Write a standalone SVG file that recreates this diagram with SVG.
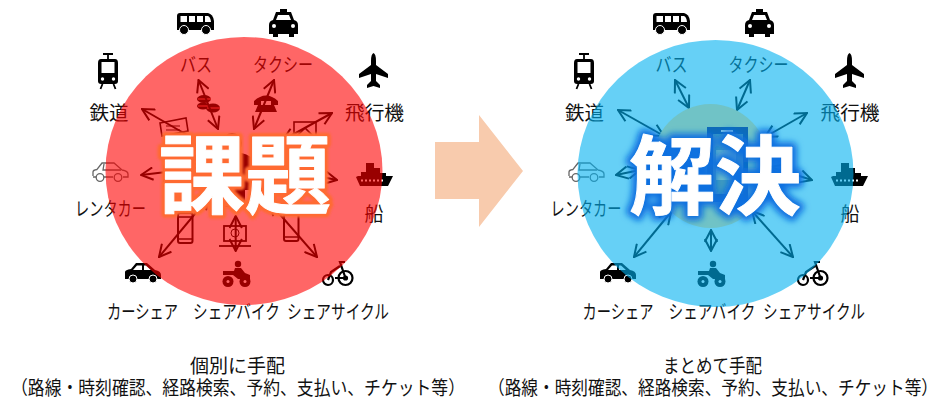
<svg xmlns="http://www.w3.org/2000/svg" width="930" height="398" viewBox="0 0 930 398">
<style>
text{font-family:"Noto Sans CJK JP","Noto Sans",sans-serif;fill:#111;font-size:19px;font-weight:400;text-anchor:middle;dominant-baseline:central}
.title{font-size:86px;font-weight:700;fill:#fff;stroke-linejoin:round;paint-order:stroke}
.glowo{fill:#ff6a30}
.glowb{fill:#0f6fe0}
.conn line{stroke:#000;stroke-width:2;fill:none;marker-start:url(#head);marker-end:url(#head)}
.soft{filter:url(#soft)}
</style>
<defs>
<filter id="soft" x="-10%" y="-10%" width="120%" height="120%"><feGaussianBlur stdDeviation="0.35"/></filter>
<filter id="glowO" x="-10%" y="-10%" width="120%" height="120%"><feGaussianBlur stdDeviation="1"/></filter>
<filter id="glowB" x="-15%" y="-15%" width="130%" height="130%"><feGaussianBlur stdDeviation="3"/></filter>
<marker id="head" viewBox="0 0 14 14" refX="13" refY="7" markerWidth="14" markerHeight="14" markerUnits="userSpaceOnUse" orient="auto-start-reverse"><path d="M1 .8 13 7 1 13.200" fill="none" stroke="#000" stroke-width="2"/></marker>
<g id="i-bus" class="soft"><path d="M3 0H31Q36 1 37 8V17H0V3Q0 0 3 0Z"/><path d="M3.500 3H10V9H3.500ZM12 3H18V9H12ZM20 3H26V9H20ZM28 3H31Q33.500 4 34 9H28Z" fill="#fff"/><circle cx="7" cy="17" r="4.500" stroke="#fff"/><circle cx="29" cy="17" r="4.500" stroke="#fff"/></g>
<g id="i-taxi" class="soft"><path d="M11 0H18V3H22L25 11Q29 12 29 16V25H25V28H20V25H9V28H4V25H0V16Q0 12 4 11L7 3H11Z"/><path d="M9 6H20L22 11H7Z" fill="#fff"/><circle cx="5" cy="17" r="2" fill="#fff"/><circle cx="24" cy="17" r="2" fill="#fff"/></g>
<g id="i-train" class="soft"><path d="M5 1H15M10 1V6" fill="none" stroke="#000" stroke-width="1.800"/><path d="M3 6H17Q20 6 20 10V28Q20 31 17 31H3Q0 31 0 28V10Q0 6 3 6Z"/><path d="M3.500 9H16.500V20H3.500Z" fill="#fff"/><circle cx="4.500" cy="26" r="1.700" fill="#fff"/><circle cx="15.500" cy="26" r="1.700" fill="#fff"/><path d="M4.500 31 2.500 36M15.500 31 17.500 36" stroke="#000" stroke-width="1.800"/></g>
<g id="i-plane" class="soft"><path d="M14.500 0Q17 1 17 8V12L29 21V25L17 21V28L21 32V35L14.500 33 8 35V32L12 28V21L0 25V21L12 12V8Q12 1 14.500 0Z"/></g>
<g id="i-ship" class="soft"><path d="M11 1H19V6H25V11H31V14H38L33 24H5L1 15 3 14H6V10H11Z"/><path d="M6 18.500H30" stroke="#fff" stroke-width="2" stroke-dasharray="2 2"/></g>
<g id="i-caro" fill="none" stroke="#666" stroke-width="1.300"><path d="M1 14V10Q1 8 5 7.500L10 1H22L30 8Q36 9 36 12V15H31M21 15H12M4 15H1"/><path d="M12 2 11 8H29"/><circle cx="8" cy="15.500" r="3.800"/><circle cx="26" cy="15.500" r="3.800"/></g>
<g id="i-cars" class="soft"><path d="M0 9Q0 7 6 6L11 0H22L30 7Q36 8 36 12V16H0Z"/><path d="M12 2.500H17V7H8ZM19 2.500H21L26 7H19Z" fill="#fff"/><circle cx="8" cy="16" r="4" stroke="#fff"/><circle cx="28" cy="16" r="4" stroke="#fff"/></g>
<g id="i-moto" class="soft"><circle cx="16" cy="3" r="3.200"/><path d="M13 7H19L23 12 28 14V18H16L11 14H1V10H12Z"/><circle cx="6" cy="20.500" r="5.500"/><circle cx="23" cy="20.500" r="5.500"/><circle cx="6" cy="20.500" r="1.500" fill="#fff"/><circle cx="23" cy="20.500" r="1.500" fill="#fff"/></g>
<g id="i-bike" fill="none" stroke="#000" stroke-width="2.200" class="soft"><circle cx="23.500" cy="18" r="7"/><circle cx="6" cy="20" r="5"/><path d="M23.500 18 18 2H23M18 6 9 12 6 20M23.500 18H13"/><circle cx="23.500" cy="18" r="1.500" fill="#000"/></g>
<g id="i-smart" class="soft"><rect x="1" y="1" width="14.500" height="30" rx="2" fill="none" stroke="#000" stroke-width="2"/><path d="M1 5H15.500M1 27H15.500" stroke="#000" stroke-width="1.500"/></g>
<g id="i-box" class="soft"><rect x="1" y="1" width="22" height="15" fill="none" stroke="#000" stroke-width="1.800"/><path d="M0 21H24M12 16V21" stroke="#000" stroke-width="1.800"/><path d="M5 7H19M5 11H19" stroke="#000" stroke-width="1"/></g>
</defs>

<rect width="930" height="398" fill="#fff"/>

<g id="left-panel">
<g id="l-bus"><use href="#i-bus" x="177" y="13"/></g>
<g id="l-taxi"><use href="#i-taxi" x="269" y="9"/></g>
<g id="l-rail"><use href="#i-train" x="98" y="53"/><text x="109" y="111" textLength="39" lengthAdjust="spacingAndGlyphs">鉄道</text></g>
<g id="l-plane"><use href="#i-plane" x="359" y="53"/><text x="374.500" y="111" textLength="59" lengthAdjust="spacingAndGlyphs">飛行機</text></g>
<g id="l-buslabel"><text x="196" y="63" textLength="32" lengthAdjust="spacingAndGlyphs">バス</text></g>
<g id="l-taxilabel"><text x="283" y="63" textLength="60" lengthAdjust="spacingAndGlyphs">タクシー</text></g>
<g id="l-rental"><use href="#i-caro" x="92" y="162"/><text x="110.500" y="207" textLength="71" lengthAdjust="spacingAndGlyphs">レンタカー</text></g>
<g id="l-ship"><use href="#i-ship" x="355" y="162"/><text x="374" y="212">船</text></g>
<g id="l-carshare"><use href="#i-cars" x="125" y="263"/><text x="142.500" y="310" textLength="71" lengthAdjust="spacingAndGlyphs">カーシェア</text></g>
<g id="l-bike"><use href="#i-moto" x="222" y="261"/><text x="236.500" y="310" textLength="87" lengthAdjust="spacingAndGlyphs">シェアバイク</text></g>
<g id="l-cycle"><use href="#i-bike" x="322" y="260"/><text x="338" y="310" textLength="102" lengthAdjust="spacingAndGlyphs">シェアサイクル</text></g>

<g id="l-user" class="soft"><circle cx="232" cy="143" r="10"/><path d="M214 157Q232 146 251 157L253 190H245V207H218V190H207Z"/></g>
<g id="l-coins" class="soft"><ellipse cx="204" cy="99" rx="7" ry="4"/><ellipse cx="213" cy="108" rx="7" ry="4.500"/><ellipse cx="203" cy="106" rx="6" ry="3.500"/><path d="M198 99H211M207 108H220M198 106H209" stroke="#f66" stroke-width="1"/></g>
<g id="l-phone" class="soft"><path d="M254 101Q266 90 278 101V105H271V101H261V105H254Z"/><path d="M258 105H274L277 112H255Z"/></g>
<g id="l-ticket" class="soft" fill="none" stroke="#000" stroke-width="1.600"><path d="M160 123 186 118 188 131 162 136Z"/><path d="M166 126H180M166 130H180" stroke-width="1"/></g>
<g id="l-web" class="soft" fill="none" stroke="#000" stroke-width="1.600"><rect x="294" y="122" width="22" height="18"/><path d="M297 136 305 128 313 136"/></g>
<g id="l-web2"><use href="#i-box" x="163" y="165"/></g>
<g id="l-web3"><use href="#i-box" x="300" y="165"/></g>
<g id="l-smart1"><use href="#i-smart" x="177" y="212"/></g>
<g id="l-smart2"><use href="#i-smart" x="283" y="210"/></g>
<g id="l-laptop" class="soft" fill="none" stroke="#000" stroke-width="1.800"><rect x="224" y="226" width="22" height="15"/><circle cx="235" cy="233" r="4" stroke-width="1"/><path d="M219 246H251"/></g>

<g id="l-connectors" class="conn">
<line x1="198.500" y1="80" x2="218" y2="129"/>
<line x1="274" y1="80" x2="254" y2="129"/>
<line x1="142" y1="109" x2="215" y2="151"/>
<line x1="332" y1="113" x2="283" y2="140"/>
<line x1="141" y1="175" x2="200" y2="168"/>
<line x1="337" y1="180" x2="297" y2="172"/>
<line x1="159" y1="257" x2="209" y2="197"/>
<line x1="235.700" y1="216" x2="235.700" y2="251"/>
<line x1="317" y1="257" x2="270" y2="203"/>
</g>
<ellipse id="l-overlay" cx="244" cy="171" rx="138.500" ry="134" fill="#f00" fill-opacity=".6"/>
<g id="l-title">
<text class="title glowo" x="245" y="169" stroke="#ff6a30" stroke-width="8" filter="url(#glowO)">課題</text>
<text class="title" x="245" y="169" stroke="#fff" stroke-width="1">課題</text>
</g>
</g>

<g id="right-panel">
<g id="r-bus"><use href="#i-bus" x="653" y="13"/></g>
<g id="r-taxi"><use href="#i-taxi" x="745" y="9"/></g>
<g id="r-rail"><use href="#i-train" x="574" y="53"/><text x="584.500" y="111" textLength="39" lengthAdjust="spacingAndGlyphs">鉄道</text></g>
<g id="r-plane"><use href="#i-plane" x="835" y="53"/><text x="850" y="111" textLength="59" lengthAdjust="spacingAndGlyphs">飛行機</text></g>
<g id="r-buslabel"><text x="671.500" y="63" textLength="32" lengthAdjust="spacingAndGlyphs">バス</text></g>
<g id="r-taxilabel"><text x="758.500" y="63" textLength="60" lengthAdjust="spacingAndGlyphs">タクシー</text></g>
<g id="r-rental"><use href="#i-caro" x="568" y="162"/><text x="586" y="207" textLength="71" lengthAdjust="spacingAndGlyphs">レンタカー</text></g>
<g id="r-ship"><use href="#i-ship" x="830" y="162"/><text x="850" y="212">船</text></g>
<g id="r-carshare"><use href="#i-cars" x="600" y="263"/><text x="618" y="310" textLength="71" lengthAdjust="spacingAndGlyphs">カーシェア</text></g>
<g id="r-bike"><use href="#i-moto" x="697" y="261"/><text x="712" y="310" textLength="87" lengthAdjust="spacingAndGlyphs">シェアバイク</text></g>
<g id="r-cycle"><use href="#i-bike" x="797" y="260"/><text x="814" y="310" textLength="102" lengthAdjust="spacingAndGlyphs">シェアサイクル</text></g>

<g id="r-connectors" class="conn">
<line x1="675" y1="80" x2="689" y2="108"/>
<line x1="750" y1="80" x2="737" y2="110"/>
<line x1="618" y1="110" x2="664" y2="136"/>
<line x1="807" y1="113" x2="765" y2="137"/>
<line x1="616" y1="175" x2="640" y2="170"/>
<line x1="812" y1="180" x2="770" y2="167"/>
<line x1="634" y1="257" x2="671" y2="212"/>
<line x1="711" y1="230" x2="711" y2="251"/>
<line x1="793" y1="257" x2="752" y2="211"/>
</g>
<ellipse id="r-overlay" cx="715.500" cy="173.500" rx="138" ry="133.500" fill="#00b0f0" fill-opacity=".6"/>
<g id="r-hub">
<ellipse cx="710.500" cy="166" rx="59" ry="62" fill="#70c3c6"/>
<rect x="707" y="127" width="41" height="75" fill="#0f6ab8" class="soft"/>
<rect x="713" y="134" width="30" height="60" fill="#3f9bbf" class="soft"/>
<rect x="721" y="130" width="12" height="2" fill="#8fd0e8"/>
<path d="M716 150H736V162H716ZM716 168H740V180H716Z" fill="#8cc" fill-opacity=".7" class="soft"/>
</g>
<g id="r-title">
<text class="title glowb" x="715" y="170" stroke="#0f6fe0" stroke-width="10" filter="url(#glowB)">解決</text>
<text class="title" x="715" y="170" stroke="#fff" stroke-width="1">解決</text>
</g>
</g>

<g id="arrow"><path d="M435 142H479V115L523 171 479 227V199H435Z" fill="#f8cbad"/></g>

<g id="caption-left"><text x="237.500" y="364" textLength="95" lengthAdjust="spacingAndGlyphs">個別に手配</text>
<text x="238" y="386" textLength="454" lengthAdjust="spacingAndGlyphs">（路線・時刻確認、経路検索、予約、支払い、チケット等）</text></g>
<g id="caption-right"><text x="712.500" y="364" textLength="99" lengthAdjust="spacingAndGlyphs">まとめて手配</text>
<text x="713" y="386" textLength="450" lengthAdjust="spacingAndGlyphs">（路線・時刻確認、経路検索、予約、支払い、チケット等）</text></g>
</svg>
